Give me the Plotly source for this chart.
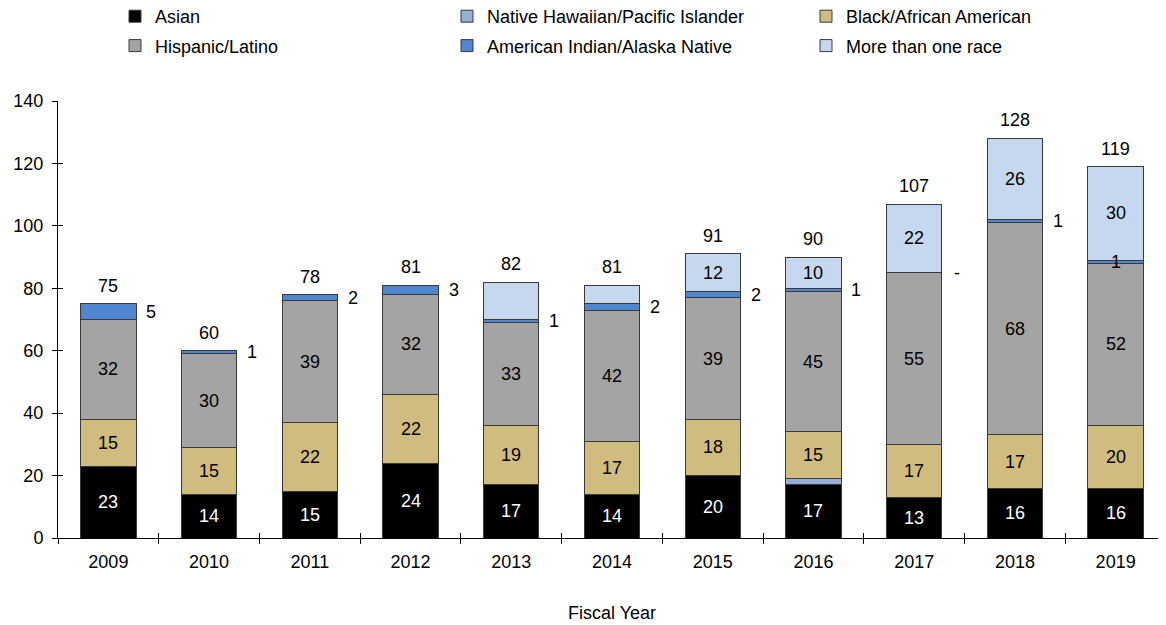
import plotly.graph_objects as go

years = ['2009', '2010', '2011', '2012', '2013', '2014', '2015', '2016', '2017', '2018', '2019']
asian = [23, 14, 15, 24, 17, 14, 20, 17, 13, 16, 16]
nhpi = [0, 0, 0, 0, 0, 0, 0, 2, 0, 0, 0]
black = [15, 15, 22, 22, 19, 17, 18, 15, 17, 17, 20]
hispanic = [32, 30, 39, 32, 33, 42, 39, 45, 55, 68, 52]
aian = [5, 1, 2, 3, 1, 2, 2, 1, 0, 1, 1]
multi = [0, 0, 0, 0, 12, 6, 12, 10, 22, 26, 30]

# labels as printed on the chart (None = no label)
asian_labels = ['23', '14', '15', '24', '17', '14', '20', '17', '13', '16', '16']
black_labels = ['15', '15', '22', '22', '19', '17', '18', '15', '17', '17', '20']
hispanic_labels = ['32', '30', '39', '32', '33', '42', '39', '45', '55', '68', '52']
aian_labels = ['5', '1', '2', '3', '1', '2', '2', '1', '-', '1', '1']
multi_labels = [None, None, None, None, None, None, '12', '10', '22', '26', '30']

FONT = 'Liberation Sans, Arial, sans-serif'

series = [
    ('Asian', asian, '#000000', 'legend'),
    ('Native Hawaiian/Pacific Islander', nhpi, '#97aed8', 'legend2'),
    ('Black/African American', black, '#d1bc80', 'legend3'),
    ('Hispanic/Latino', hispanic, '#a4a4a4', 'legend'),
    ('American Indian/Alaska Native', aian, '#4f86cf', 'legend2'),
    ('More than one race', multi, '#c6d8ef', 'legend3'),
]

fig = go.Figure()
for name, vals, color, leg in series:
    fig.add_trace(go.Bar(
        x=years,
        y=[v if v else None for v in vals],
        name=name,
        marker_color=color,
        marker_line=dict(color='#3a3a3a', width=1),
        width=0.55,
        legend=leg,
        legendgroup=name,
    ))

# invisible trace so the overlay axes carry the inner half of the ticks
fig.add_trace(go.Scatter(x=years, y=[0] * len(years), xaxis='x2', yaxis='y2',
                         mode='markers', marker=dict(opacity=0), showlegend=False,
                         hoverinfo='skip'))


def label(i, y, text, color='black', xshift=0, yshift=0):
    # x given as category index: year strings would be read as numbers
    return dict(x=i, y=y, text=text, showarrow=False, xshift=xshift, yshift=yshift,
                font=dict(color=color, size=18, family=FONT))


annotations = []
for i, yr in enumerate(years):
    base = 0
    segs = [
        (asian[i], asian_labels[i], 'white'),
        (nhpi[i], None, 'black'),
        (black[i], black_labels[i], 'black'),
        (hispanic[i], hispanic_labels[i], 'black'),
    ]
    for val, lab, col in segs:
        if lab:
            annotations.append(label(i, base + val / 2, lab, col))
        base += val
    # American Indian/Alaska Native: label beside the bar, except 2019
    inside = yr == '2019'
    annotations.append(label(i, base + aian[i] / 2, aian_labels[i], xshift=0 if inside else 43))
    base += aian[i]
    if multi_labels[i]:
        annotations.append(label(i, base + multi[i] / 2, multi_labels[i]))
    base += multi[i]
    annotations.append(label(i, base, str(base), yshift=18))

leg_common = dict(orientation='v', xref='container', yref='paper', yanchor='top',
                  xanchor='left', font=dict(size=18, family=FONT, color='black'),
                  bgcolor='rgba(0,0,0,0)', tracegroupgap=3, traceorder='grouped',
                  itemclick=False)
leg_y = 1 + 103 / 437

fig.update_layout(
    width=1166,
    height=625,
    barmode='stack',
    plot_bgcolor='white',
    paper_bgcolor='white',
    font=dict(family=FONT, size=18, color='black'),
    margin=dict(l=50, r=8, t=93, b=95, autoexpand=False),
    annotations=annotations,
    legend=dict(x=107 / 1166, y=leg_y, **leg_common),
    legend2=dict(x=439 / 1166, y=leg_y, **leg_common),
    legend3=dict(x=798 / 1166, y=leg_y, **leg_common),
    xaxis=dict(
        type='category', range=[-0.5, 10.5], tickson='boundaries',
        ticks='outside', ticklen=5, tickcolor='black', tickangle=0,
        ticklabelstandoff=7,
        showline=True, linecolor='black', linewidth=1,
        showgrid=False, zeroline=False, automargin=False,
        title=dict(text='Fiscal Year', font=dict(size=18, family=FONT), standoff=35),
    ),
    yaxis=dict(
        range=[0, 140], dtick=20, ticks='outside', ticklen=5, tickcolor='black',
        ticklabelstandoff=5,
        showline=True, linecolor='black', linewidth=1,
        showgrid=False, zeroline=False, automargin=False,
    ),
    xaxis2=dict(
        type='category', range=[-0.5, 10.5], tickson='boundaries', overlaying='x',
        side='bottom', ticks='inside', ticklen=5, tickcolor='black',
        showticklabels=False, showgrid=False, zeroline=False, showline=False,
        anchor='y2', automargin=False,
    ),
    yaxis2=dict(
        range=[0, 140], dtick=20, overlaying='y', side='left', anchor='x2',
        ticks='inside', ticklen=5, tickcolor='black',
        showticklabels=False, showgrid=False, zeroline=False, showline=False,
        automargin=False,
    ),
)

fig.write_html('out.html')
